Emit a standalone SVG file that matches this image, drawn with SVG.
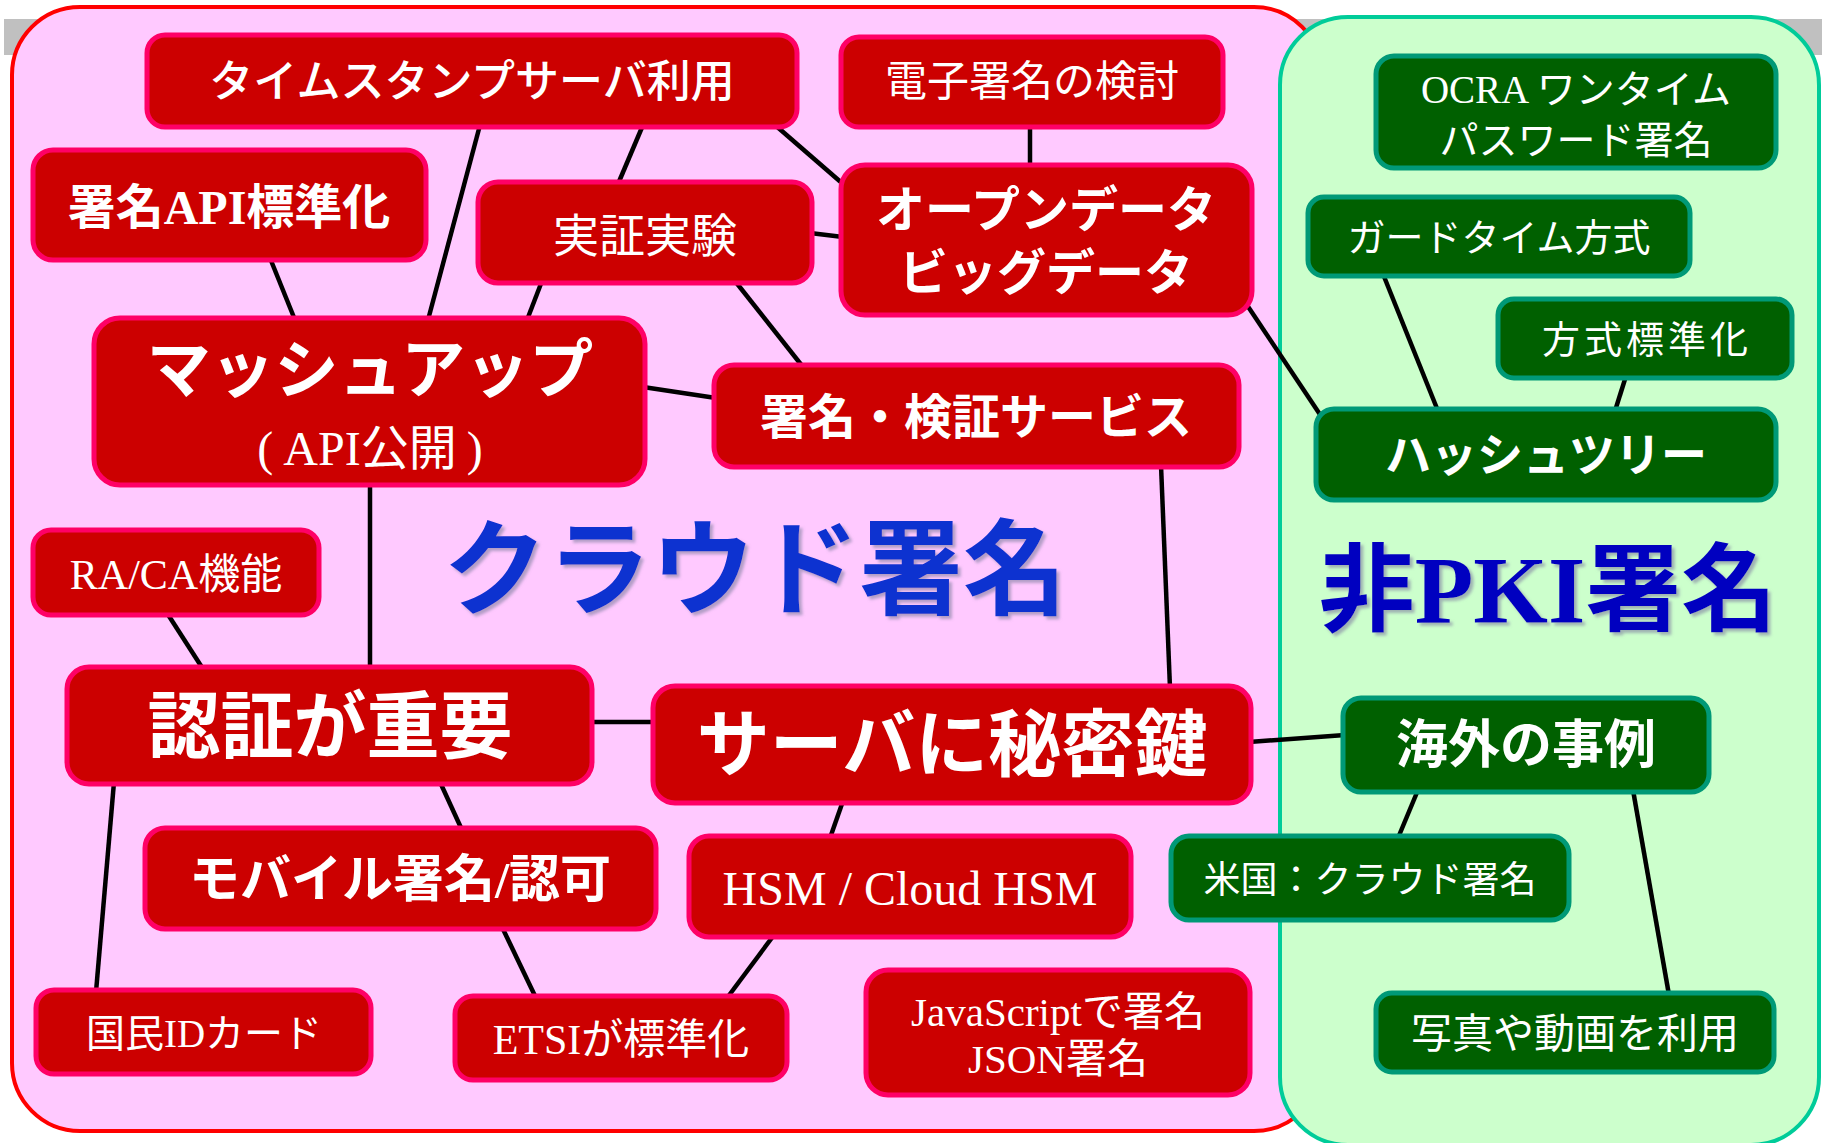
<svg xmlns="http://www.w3.org/2000/svg" width="1822" height="1143" viewBox="0 0 1822 1143">
<defs>
<style>
.rn rect{fill:#cc0000;stroke:#ff0066;stroke-width:5}
.gn rect{fill:#006000;stroke:#009977;stroke-width:5}
text{fill:#fff;text-anchor:middle;dominant-baseline:central;font-family:"Liberation Serif","Noto Sans CJK JP",serif}
.b{font-weight:bold}
.m{font-weight:500}
.cn line{stroke:#000;stroke-width:4.5}
.title{font-weight:bold;filter:url(#sh)}
</style>
<filter id="sh" x="-5%" y="-5%" width="115%" height="120%">
<feDropShadow dx="3" dy="3" stdDeviation="1.5" flood-color="#8080a0" flood-opacity="0.6"/>
</filter>
</defs>
<rect x="4" y="19" width="1818" height="36" fill="#c0c0c0"/>
<rect id="cloud-area" x="12" y="7" width="1310" height="1124" rx="68" fill="#ffc9ff" stroke="#ff0000" stroke-width="4"/>
<rect id="nonpki-area" x="1280" y="17" width="539" height="1128" rx="68" fill="#ccffcc" stroke="#00cc99" stroke-width="4"/>
<text class="title" x="755" y="571" font-size="104" style="fill:#1030d0">クラウド署名</text>
<text class="title" x="1548" y="590" font-size="96" style="fill:#0000c0">非PKI署名</text>
<g class="cn" id="connectors">
<line x1="270" y1="258" x2="295" y2="320"/>
<line x1="480" y1="125" x2="428" y2="320"/>
<line x1="643" y1="125" x2="618" y2="184"/>
<line x1="542" y1="281" x2="527" y2="320"/>
<line x1="775" y1="125" x2="843" y2="184"/>
<line x1="1030" y1="125" x2="1030" y2="167"/>
<line x1="810" y1="233" x2="843" y2="237"/>
<line x1="735" y1="281" x2="803" y2="367"/>
<line x1="643" y1="387" x2="716" y2="398"/>
<line x1="1245" y1="302" x2="1321" y2="416"/>
<line x1="1161" y1="465" x2="1170" y2="688"/>
<line x1="1383" y1="274" x2="1438" y2="411"/>
<line x1="1626" y1="376" x2="1615" y2="411"/>
<line x1="370" y1="483" x2="370" y2="669"/>
<line x1="167" y1="613" x2="203" y2="669"/>
<line x1="590" y1="722" x2="655" y2="722"/>
<line x1="114" y1="782" x2="96" y2="992"/>
<line x1="440" y1="782" x2="462" y2="830"/>
<line x1="502" y1="927" x2="536" y2="998"/>
<line x1="843" y1="801" x2="830" y2="838"/>
<line x1="774" y1="935" x2="727" y2="998"/>
<line x1="1249" y1="742" x2="1345" y2="735"/>
<line x1="1418" y1="790" x2="1398" y2="838"/>
<line x1="1633" y1="790" x2="1669" y2="995"/>
</g>
<g class="rn" id="timestamp"><rect x="147" y="35" width="650" height="92" rx="18"/><text class="m" x="472" y="82" font-size="44">タイムスタンプサーバ利用</text></g>
<g class="rn" id="esig"><rect x="841" y="37" width="382" height="90" rx="18"/><text x="1032" y="82" font-size="42">電子署名の検討</text></g>
<g class="rn" id="sigapi"><rect x="33" y="150" width="393" height="110" rx="20"/><text class="b" x="229" y="207" font-size="48">署名API標準化</text></g>
<g class="rn" id="poc"><rect x="478" y="182" width="334" height="101" rx="20"/><text x="645" y="236" font-size="46">実証実験</text></g>
<g class="rn" id="opendata"><rect x="841" y="165" width="411" height="150" rx="24"/><text class="b" x="1046" y="210" font-size="49">オープンデータ</text><text class="b" x="1046" y="273" font-size="49">ビッグデータ</text></g>
<g class="rn" id="mashup"><rect x="94" y="318" width="551" height="167" rx="26"/><text class="b" x="370" y="370" font-size="64">マッシュアップ</text><text x="370" y="448" font-size="48">(<tspan dx="10">API公開</tspan><tspan dx="10">)</tspan></text></g>
<g class="rn" id="sigsvc"><rect x="714" y="365" width="525" height="102" rx="20"/><text class="b" x="976" y="417" font-size="48">署名・検証サービス</text></g>
<g class="rn" id="raca"><rect x="33" y="530" width="286" height="85" rx="18"/><text x="176" y="575" font-size="42">RA/CA機能</text></g>
<g class="rn" id="auth"><rect x="67" y="667" width="525" height="117" rx="22"/><text class="b" x="330" y="727" font-size="73">認証が重要</text></g>
<g class="rn" id="serverkey"><rect x="653" y="686" width="598" height="117" rx="22"/><text class="b" x="952" y="745" font-size="73">サーバに秘密鍵</text></g>
<g class="rn" id="mobile"><rect x="145" y="828" width="511" height="101" rx="20"/><text class="b" x="400" y="880" font-size="51">モバイル署名/認可</text></g>
<g class="rn" id="hsm"><rect x="689" y="836" width="442" height="101" rx="20"/><text x="910" y="888" font-size="48">HSM / Cloud HSM</text></g>
<g class="rn" id="natid"><rect x="36" y="990" width="335" height="84" rx="18"/><text x="204" y="1033" font-size="39">国民IDカード</text></g>
<g class="rn" id="etsi"><rect x="455" y="996" width="332" height="84" rx="18"/><text x="621" y="1040" font-size="42">ETSIが標準化</text></g>
<g class="rn" id="jssig"><rect x="866" y="970" width="384" height="125" rx="22"/><text x="1058" y="1012" font-size="41">JavaScriptで署名</text><text x="1058" y="1059" font-size="41">JSON署名</text></g>
<g class="gn" id="ocra"><rect x="1376" y="56" width="400" height="112" rx="18"/><text x="1576" y="89" font-size="39">OCRA ワンタイム</text><text x="1576" y="140" font-size="39">パスワード署名</text></g>
<g class="gn" id="guardtime"><rect x="1308" y="197" width="382" height="79" rx="16"/><text x="1499" y="238" font-size="38">ガードタイム方式</text></g>
<g class="gn" id="methodstd"><rect x="1498" y="299" width="294" height="79" rx="16"/><text x="1647" y="340" font-size="38" letter-spacing="4">方式標準化</text></g>
<g class="gn" id="hashtree"><rect x="1316" y="409" width="460" height="91" rx="18"/><text class="b" x="1546" y="455" font-size="46">ハッシュツリー</text></g>
<g class="gn" id="overseas"><rect x="1343" y="698" width="366" height="94" rx="18"/><text class="b" x="1526" y="745" font-size="52">海外の事例</text></g>
<g class="gn" id="us"><rect x="1171" y="836" width="398" height="84" rx="18"/><text x="1370" y="880" font-size="37">米国：クラウド署名</text></g>
<g class="gn" id="photo"><rect x="1376" y="993" width="398" height="79" rx="16"/><text x="1575" y="1034" font-size="41">写真や動画を利用</text></g>
</svg>
